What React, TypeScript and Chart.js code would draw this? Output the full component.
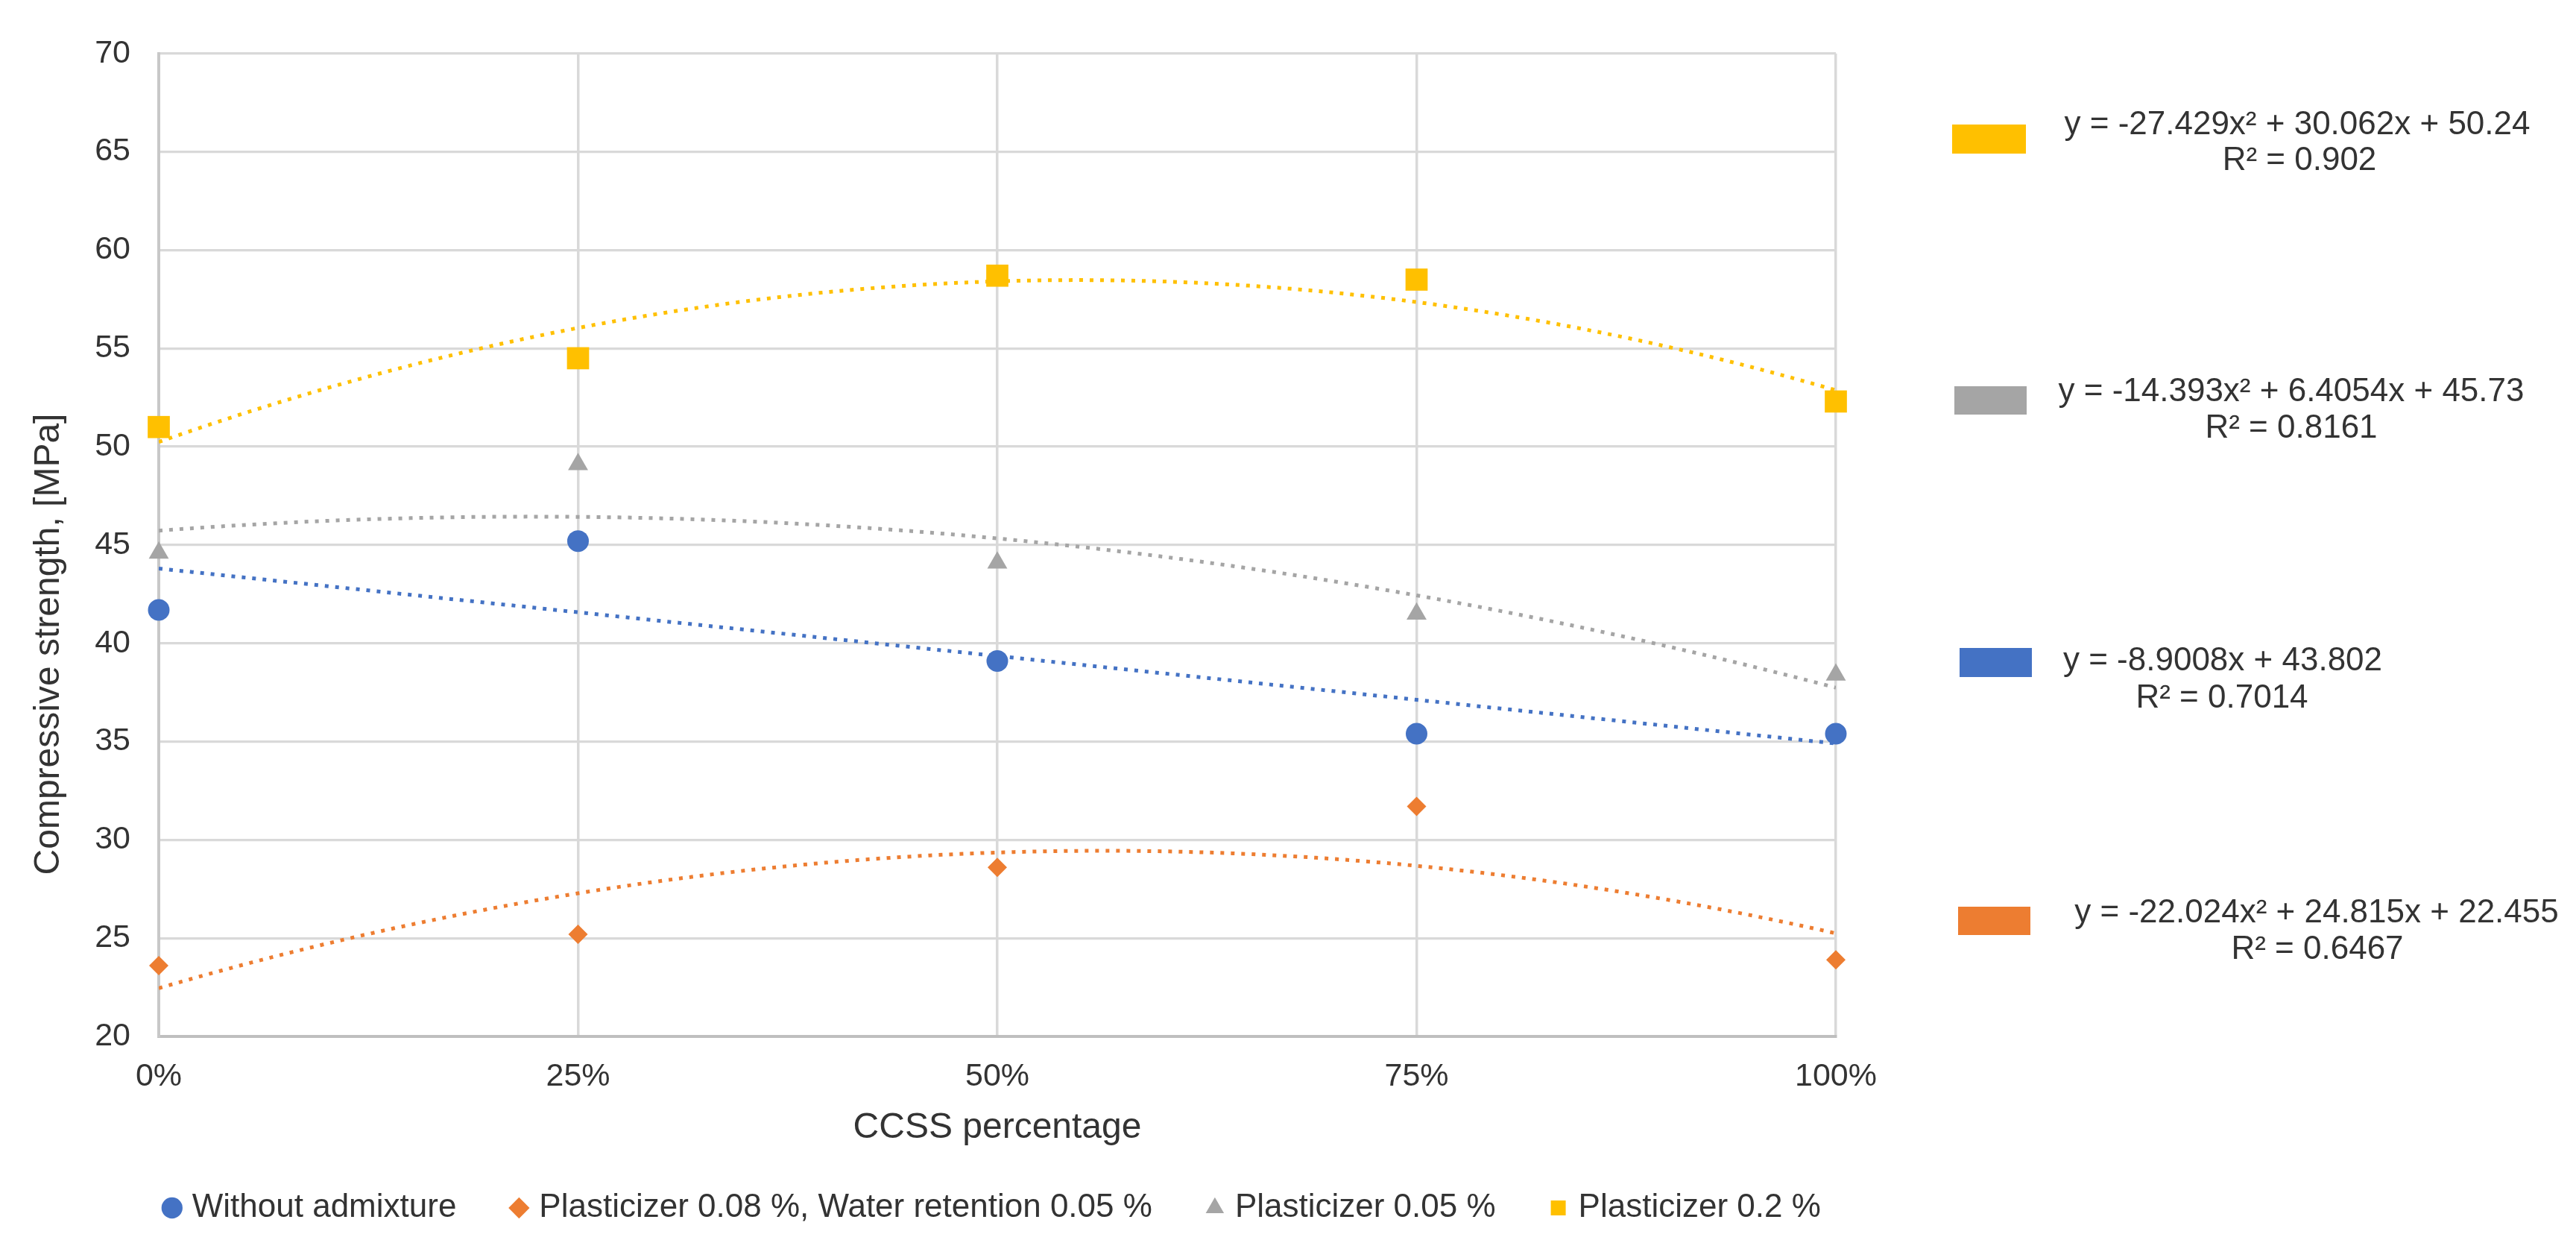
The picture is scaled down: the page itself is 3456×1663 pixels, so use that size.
import React, { useEffect, useRef } from 'react';
import { Chart, registerables } from 'chart.js';

Chart.register(...registerables);

// ---------- data ----------
const categories = [0, 25, 50, 75, 100];
const xTickLabels = ['0%', '25%', '50%', '75%', '100%'];
const seriesNames = [
  'Without admixture',
  'Plasticizer 0.08 %, Water retention 0.05 %',
  'Plasticizer 0.05 %',
  'Plasticizer 0.2 %',
];
const withoutAdmixture = [41.7, 45.2, 39.1, 35.4, 35.4];
const plasticizer008Water005 = [23.6, 25.2, 28.6, 31.7, 23.9];
const plasticizer005 = [44.6, 49.1, 44.1, 41.5, 38.4];
const plasticizer02 = [51.0, 54.5, 58.7, 58.5, 52.3];

// trendline coefficients as printed on the chart: [x², x, constant]
const trendWithout = [0, -8.9008, 43.802];
const trend008 = [-22.024, 24.815, 22.455];
const trend005 = [-14.393, 6.4054, 45.73];
const trend02 = [-27.429, 30.062, 50.24];

// equation legend (top to bottom)
const equationTexts = [
  'y = -27.429x² + 30.062x + 50.24',
  'y = -14.393x² + 6.4054x + 45.73',
  'y = -8.9008x + 43.802',
  'y = -22.024x² + 24.815x + 22.455',
];
const r2Texts = ['R² = 0.902', 'R² = 0.8161', 'R² = 0.7014', 'R² = 0.6467'];

const xTitle = 'CCSS percentage';
const yTitle = 'Compressive strength, [MPa]';
const yMin = 20;
const yMax = 70;
const yStep = 5;

// ---------- styles ----------
const FONT = '"Liberation Sans", Arial, sans-serif';
const TEXT = '#333333';
const BLUE = '#4472C4';
const ORANGE = '#ED7D31';
const GRAY = '#A5A5A5';
const YELLOW = '#FFC000';

const toPoints = (vals: number[]) => vals.map((v, i) => ({ x: categories[i], y: v }));
const trendPoints = (c: number[]) => {
  const pts: { x: number; y: number }[] = [];
  for (let p = categories[0]; p <= categories[categories.length - 1]; p += 1) {
    const t = p / 100;
    pts.push({ x: p, y: c[0] * t * t + c[1] * t + c[2] });
  }
  return pts;
};

const panelLayout = [
  { color: YELLOW, rect: [2611, 159, 99, 39], eq: [3074, 160], r2: [3077, 208] },
  { color: GRAY, rect: [2614, 510, 97, 38], eq: [3066, 518], r2: [3066, 567] },
  { color: BLUE, rect: [2621, 861, 97, 39], eq: [2974, 879], r2: [2973, 929] },
  { color: ORANGE, rect: [2619, 1208, 97, 38], eq: [3100, 1217], r2: [3101, 1266] },
];

const extrasPlugin = {
  id: 'extras',
  afterDraw(chart: any) {
    const ctx = chart.ctx as CanvasRenderingContext2D;
    ctx.save();
    ctx.fillStyle = TEXT;
    ctx.font = `48px ${FONT}`;
    ctx.textAlign = 'center';
    ctx.textBaseline = 'middle';
    ctx.translate(58, 856);
    ctx.rotate(-Math.PI / 2);
    ctx.fillText(yTitle, 0, 0);
    ctx.restore();

    ctx.save();
    panelLayout.forEach((p, i) => {
      ctx.fillStyle = p.color;
      ctx.fillRect(p.rect[0], p.rect[1], p.rect[2], p.rect[3]);
      ctx.fillStyle = TEXT;
      ctx.font = `44px ${FONT}`;
      ctx.textAlign = 'center';
      ctx.textBaseline = 'middle';
      ctx.fillText(equationTexts[i], p.eq[0], p.eq[1]);
      ctx.fillText(r2Texts[i], p.r2[0], p.r2[1]);
    });
    ctx.restore();
  },
};

export default function App() {
  const canvasRef = useRef<HTMLCanvasElement>(null);

  useEffect(() => {
    if (!canvasRef.current) return;
    const scatterBase = { showLine: false, clip: false as any, pointBorderWidth: 0 };
    const trendBase = {
      showLine: true,
      pointRadius: 0,
      borderWidth: 5,
      borderDash: [5, 9],
      borderCapStyle: 'butt' as const,
      tension: 0,
      fill: false,
    };
    const chart = new Chart(canvasRef.current, {
      type: 'scatter',
      data: {
        datasets: [
          {
            ...scatterBase,
            label: seriesNames[0],
            data: toPoints(withoutAdmixture),
            pointStyle: 'circle',
            pointRadius: 14.5,
            backgroundColor: BLUE,
            borderColor: BLUE,
            pointBackgroundColor: BLUE,
          },
          {
            ...scatterBase,
            label: seriesNames[1],
            data: toPoints(plasticizer008Water005),
            pointStyle: 'rectRot',
            pointRadius: 13,
            backgroundColor: ORANGE,
            borderColor: ORANGE,
            pointBackgroundColor: ORANGE,
          },
          {
            ...scatterBase,
            label: seriesNames[2],
            data: toPoints(plasticizer005),
            pointStyle: 'triangle',
            pointRadius: 15.5,
            backgroundColor: GRAY,
            borderColor: GRAY,
            pointBackgroundColor: GRAY,
          },
          {
            ...scatterBase,
            label: seriesNames[3],
            data: toPoints(plasticizer02),
            pointStyle: 'rect',
            pointRadius: 21,
            backgroundColor: YELLOW,
            borderColor: YELLOW,
            pointBackgroundColor: YELLOW,
          },
          { ...trendBase, label: 'trend-0', data: trendPoints(trendWithout), borderColor: BLUE },
          { ...trendBase, label: 'trend-1', data: trendPoints(trend008), borderColor: ORANGE },
          { ...trendBase, label: 'trend-2', data: trendPoints(trend005), borderColor: GRAY },
          { ...trendBase, label: 'trend-3', data: trendPoints(trend02), borderColor: YELLOW },
        ] as any,
      },
      options: {
        responsive: false,
        animation: false,
        devicePixelRatio: 1,
        events: [],
        layout: { padding: { left: 100, right: 887.4, top: 50, bottom: 3 } },
        scales: {
          x: {
            type: 'linear',
            min: categories[0],
            max: categories[categories.length - 1],
            ticks: {
              stepSize: 25,
              padding: 28.2,
              color: TEXT,
              font: { family: FONT, size: 43 },
              callback: (v: any) => {
                const idx = categories.indexOf(Number(v));
                return idx >= 0 ? xTickLabels[idx] : '';
              },
            },
            grid: { color: '#D9D9D9', lineWidth: 3.5, drawTicks: false, tickLength: 0 },
            border: { color: '#BFBFBF', width: 4 },
            title: {
              display: true,
              text: xTitle,
              color: TEXT,
              font: { family: FONT, size: 48 },
              padding: { top: 0, bottom: -22.8 },
            },
            afterFit: (s: any) => {
              s.height = 129;
            },
          },
          y: {
            type: 'linear',
            position: 'left',
            min: yMin,
            max: yMax,
            ticks: {
              stepSize: yStep,
              padding: 38,
              color: TEXT,
              font: { family: FONT, size: 43 },
            },
            grid: { color: '#D9D9D9', lineWidth: 3.3, drawTicks: false, tickLength: 0 },
            border: { color: '#C8C8C8', width: 4 },
            afterFit: (s: any) => {
              s.width = 105;
            },
          },
          panel: {
            type: 'linear',
            position: 'right',
            display: true,
            ticks: { display: false },
            grid: { display: false, drawTicks: false },
            border: { display: false },
            afterFit: (s: any) => {
              s.width = 97.6;
            },
          },
        } as any,
        plugins: {
          tooltip: { enabled: false },
          legend: {
            position: 'bottom',
            align: 'center',
            fullSize: true,
            labels: {
              usePointStyle: true,
              boxWidth: 10,
              boxHeight: 20,
              padding: 79,
              color: TEXT,
              font: { family: FONT, size: 44 },
              filter: (item: any) => item.datasetIndex < 4,
            },
          },
        },
      },
      plugins: [extrasPlugin as any],
    });
    return () => chart.destroy();
  }, []);

  return (
    <div style={{ width: 3440, height: 1647, overflow: 'hidden' }}>
      <canvas ref={canvasRef} width={3440} height={1647} style={{ display: 'block' }} />
    </div>
  );
}
